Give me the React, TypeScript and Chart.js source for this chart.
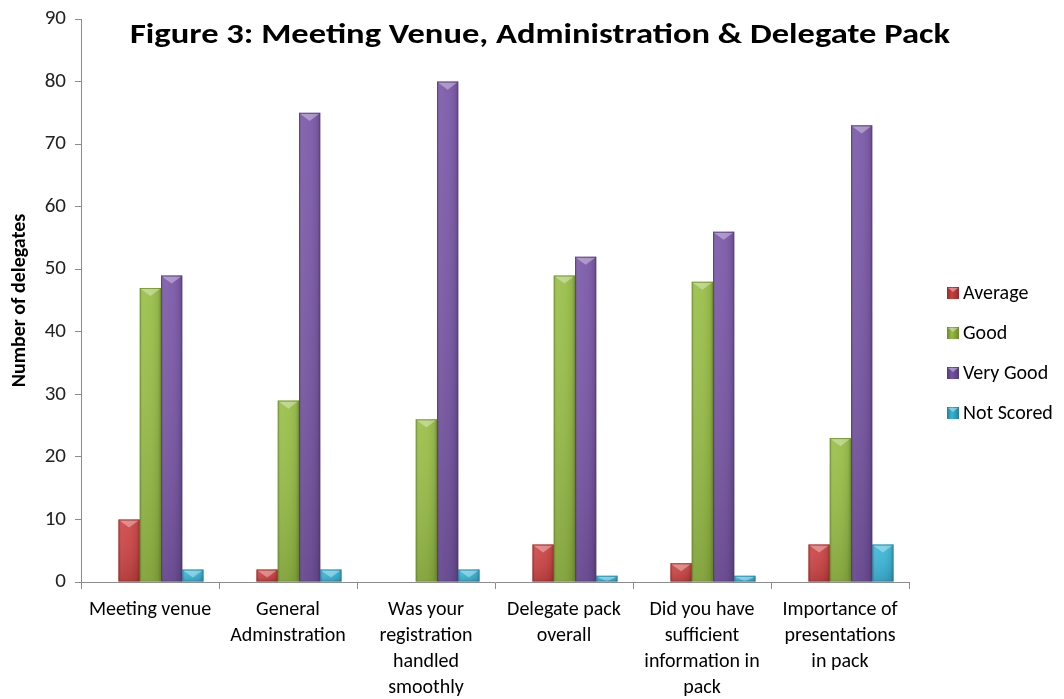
import React, { useEffect, useRef } from "react";
import { Chart, registerables } from "chart.js";
Chart.register(...registerables);

const categories: string[][] = [
  ["Meeting venue"],
  ["General", "Adminstration"],
  ["Was your", "registration", "handled", "smoothly"],
  ["Delegate pack", "overall"],
  ["Did you have", "sufficient", "information in", "pack"],
  ["Importance of", "presentations", "in pack"],
];
const seriesNames = ["Average", "Good", "Very Good", "Not Scored"];
const averageValues = [10, 2, 0, 6, 3, 6];
const goodValues = [47, 29, 26, 49, 48, 23];
const veryGoodValues = [49, 75, 80, 52, 56, 73];
const notScoredValues = [2, 2, 2, 1, 1, 6];
const seriesColors = ["#cc3f3f", "#95bc42", "#7653a5", "#37b5d8"];
const seriesDark = ["#9a2a2a", "#6b8a2a", "#543a7a", "#23819c"];
const titleText = "Figure 3: Meeting Venue, Administration & Delegate Pack";
const yAxisTitle = "Number of delegates";
const yMin = 0;
const yMax = 90;
const yStep = 10;

const FONT = "Carlito, Lato, sans-serif";
const BAR_SHIFT = 11;

const decorPlugin = {
  id: "decor",
  beforeDatasetsDraw(chart: any) {
    const ctx = chart.ctx;
    ctx.save();
    ctx.translate(BAR_SHIFT, 0);
  },
  afterDatasetsDraw(chart: any) {
    const ctx = chart.ctx;
    chart.data.datasets.forEach((ds: any, di: number) => {
      const meta = chart.getDatasetMeta(di);
      meta.data.forEach((bar: any) => {
        const w = bar.width;
        const left = bar.x - w / 2;
        const top = Math.min(bar.y, bar.base);
        const h = Math.abs(bar.base - bar.y);
        if (h < 0.5) return;
        const gv = ctx.createLinearGradient(0, top, 0, top + h);
        gv.addColorStop(0, "rgba(255,255,255,0.06)");
        gv.addColorStop(1, "rgba(0,0,0,0.14)");
        ctx.fillStyle = gv;
        ctx.fillRect(left, top, w, h);
        const g = ctx.createLinearGradient(left, 0, left + w, 0);
        g.addColorStop(0, "rgba(0,0,0,0.14)");
        g.addColorStop(0.15, "rgba(255,255,255,0.06)");
        g.addColorStop(0.5, "rgba(255,255,255,0.03)");
        g.addColorStop(0.85, "rgba(0,0,0,0.06)");
        g.addColorStop(1, "rgba(0,0,0,0.22)");
        ctx.fillStyle = g;
        ctx.fillRect(left, top, w, h);
        const th = Math.min(w * 0.38, h);
        ctx.beginPath();
        ctx.moveTo(left + 1, top + 1);
        ctx.lineTo(left + w - 1, top + 1);
        ctx.lineTo(bar.x, top + th);
        ctx.closePath();
        ctx.fillStyle = "rgba(255,255,255,0.35)";
        ctx.fill();
        ctx.strokeStyle = seriesDark[di];
        ctx.globalAlpha = 0.6;
        ctx.lineWidth = 1;
        ctx.strokeRect(left + 0.5, top + 0.5, w - 1, h - 1);
        ctx.globalAlpha = 1;
      });
    });
    ctx.restore();
  },
  afterDraw(chart: any) {
    const ctx = chart.ctx;
    const area = chart.chartArea;
    ctx.save();
    // title
    ctx.font = `bold 29px ${FONT}`;
    ctx.fillStyle = "#000";
    ctx.textAlign = "center";
    ctx.textBaseline = "alphabetic";
    const tw = ctx.measureText(titleText).width;
    const sx = 820 / tw;
    ctx.save();
    ctx.translate(532, 35);
    ctx.scale(sx, 1);
    ctx.fillText(titleText, 0, 0);
    ctx.restore();
    // legend
    ctx.font = `20px ${FONT}`;
    ctx.textAlign = "left";
    ctx.textBaseline = "middle";
    seriesNames.forEach((name, i) => {
      const cy = 285 + i * 40;
      const bx = area.right + 38;
      const g = ctx.createLinearGradient(bx, 0, bx + 12, 0);
      g.addColorStop(0, seriesDark[i]);
      g.addColorStop(0.4, seriesColors[i]);
      g.addColorStop(1, seriesDark[i]);
      ctx.fillStyle = g;
      ctx.fillRect(bx, cy - 6, 12, 12);
      ctx.beginPath();
      ctx.moveTo(bx + 1, cy - 5);
      ctx.lineTo(bx + 11, cy - 5);
      ctx.lineTo(bx + 6, cy - 1);
      ctx.closePath();
      ctx.fillStyle = "rgba(255,255,255,0.4)";
      ctx.fill();
      ctx.fillStyle = "#000";
      ctx.fillText(name, bx + 16, cy + 1);
    });
    ctx.restore();
  },
};

export default function App() {
  const ref = useRef<HTMLCanvasElement>(null);
  useEffect(() => {
    if (!ref.current) return;
    const allValues = [averageValues, goodValues, veryGoodValues, notScoredValues];
    const chart = new Chart(ref.current, {
      type: "bar",
      data: {
        labels: categories,
        datasets: seriesNames.map((name, i) => ({
          label: name,
          data: allValues[i],
          backgroundColor: seriesColors[i],
          borderWidth: 0,
          categoryPercentage: 0.616,
          barPercentage: 1.0,
        })),
      },
      options: {
        responsive: false,
        animation: false,
        layout: { padding: { top: 11, right: 147, left: 0, bottom: 0 } },
        plugins: {
          legend: { display: false },
          title: { display: false },
          tooltip: { enabled: false },
        },
        scales: {
          x: {
            offset: true,
            grid: {
              offset: true,
              drawOnChartArea: false,
              drawTicks: true,
              tickLength: 7,
              color: "#8c8c8c",
            },
            border: { color: "#8c8c8c", width: 1 },
            ticks: {
              color: "#000",
              font: { family: FONT, size: 20, lineHeight: 1.3 },
              padding: 8,
              maxRotation: 0,
              autoSkip: false,
            },
            afterFit(scale: any) {
              scale.height = 117;
            },
          },
          y: {
            min: yMin,
            max: yMax,
            ticks: {
              stepSize: yStep,
              color: "#222",
              font: { family: FONT, size: 21 },
              padding: 9,
            },
            grid: {
              drawOnChartArea: false,
              drawTicks: true,
              tickLength: 6,
              color: "#8c8c8c",
            },
            border: { color: "#8c8c8c", width: 1 },
            title: {
              display: true,
              text: yAxisTitle,
              color: "#000",
              font: { family: FONT, size: 20, weight: "bold" },
              padding: { top: 0, bottom: 0 },
            },
            afterFit(scale: any) {
              scale.width = 73;
              scale.paddingTop = 0;
              scale.paddingBottom = 0;
            },
          },
        },
      },
      plugins: [decorPlugin],
    });
    return () => chart.destroy();
  }, []);
  return (
    <div style={{ width: 1048, height: 691 }}>
      <canvas ref={ref} width={1048} height={691} />
    </div>
  );
}
